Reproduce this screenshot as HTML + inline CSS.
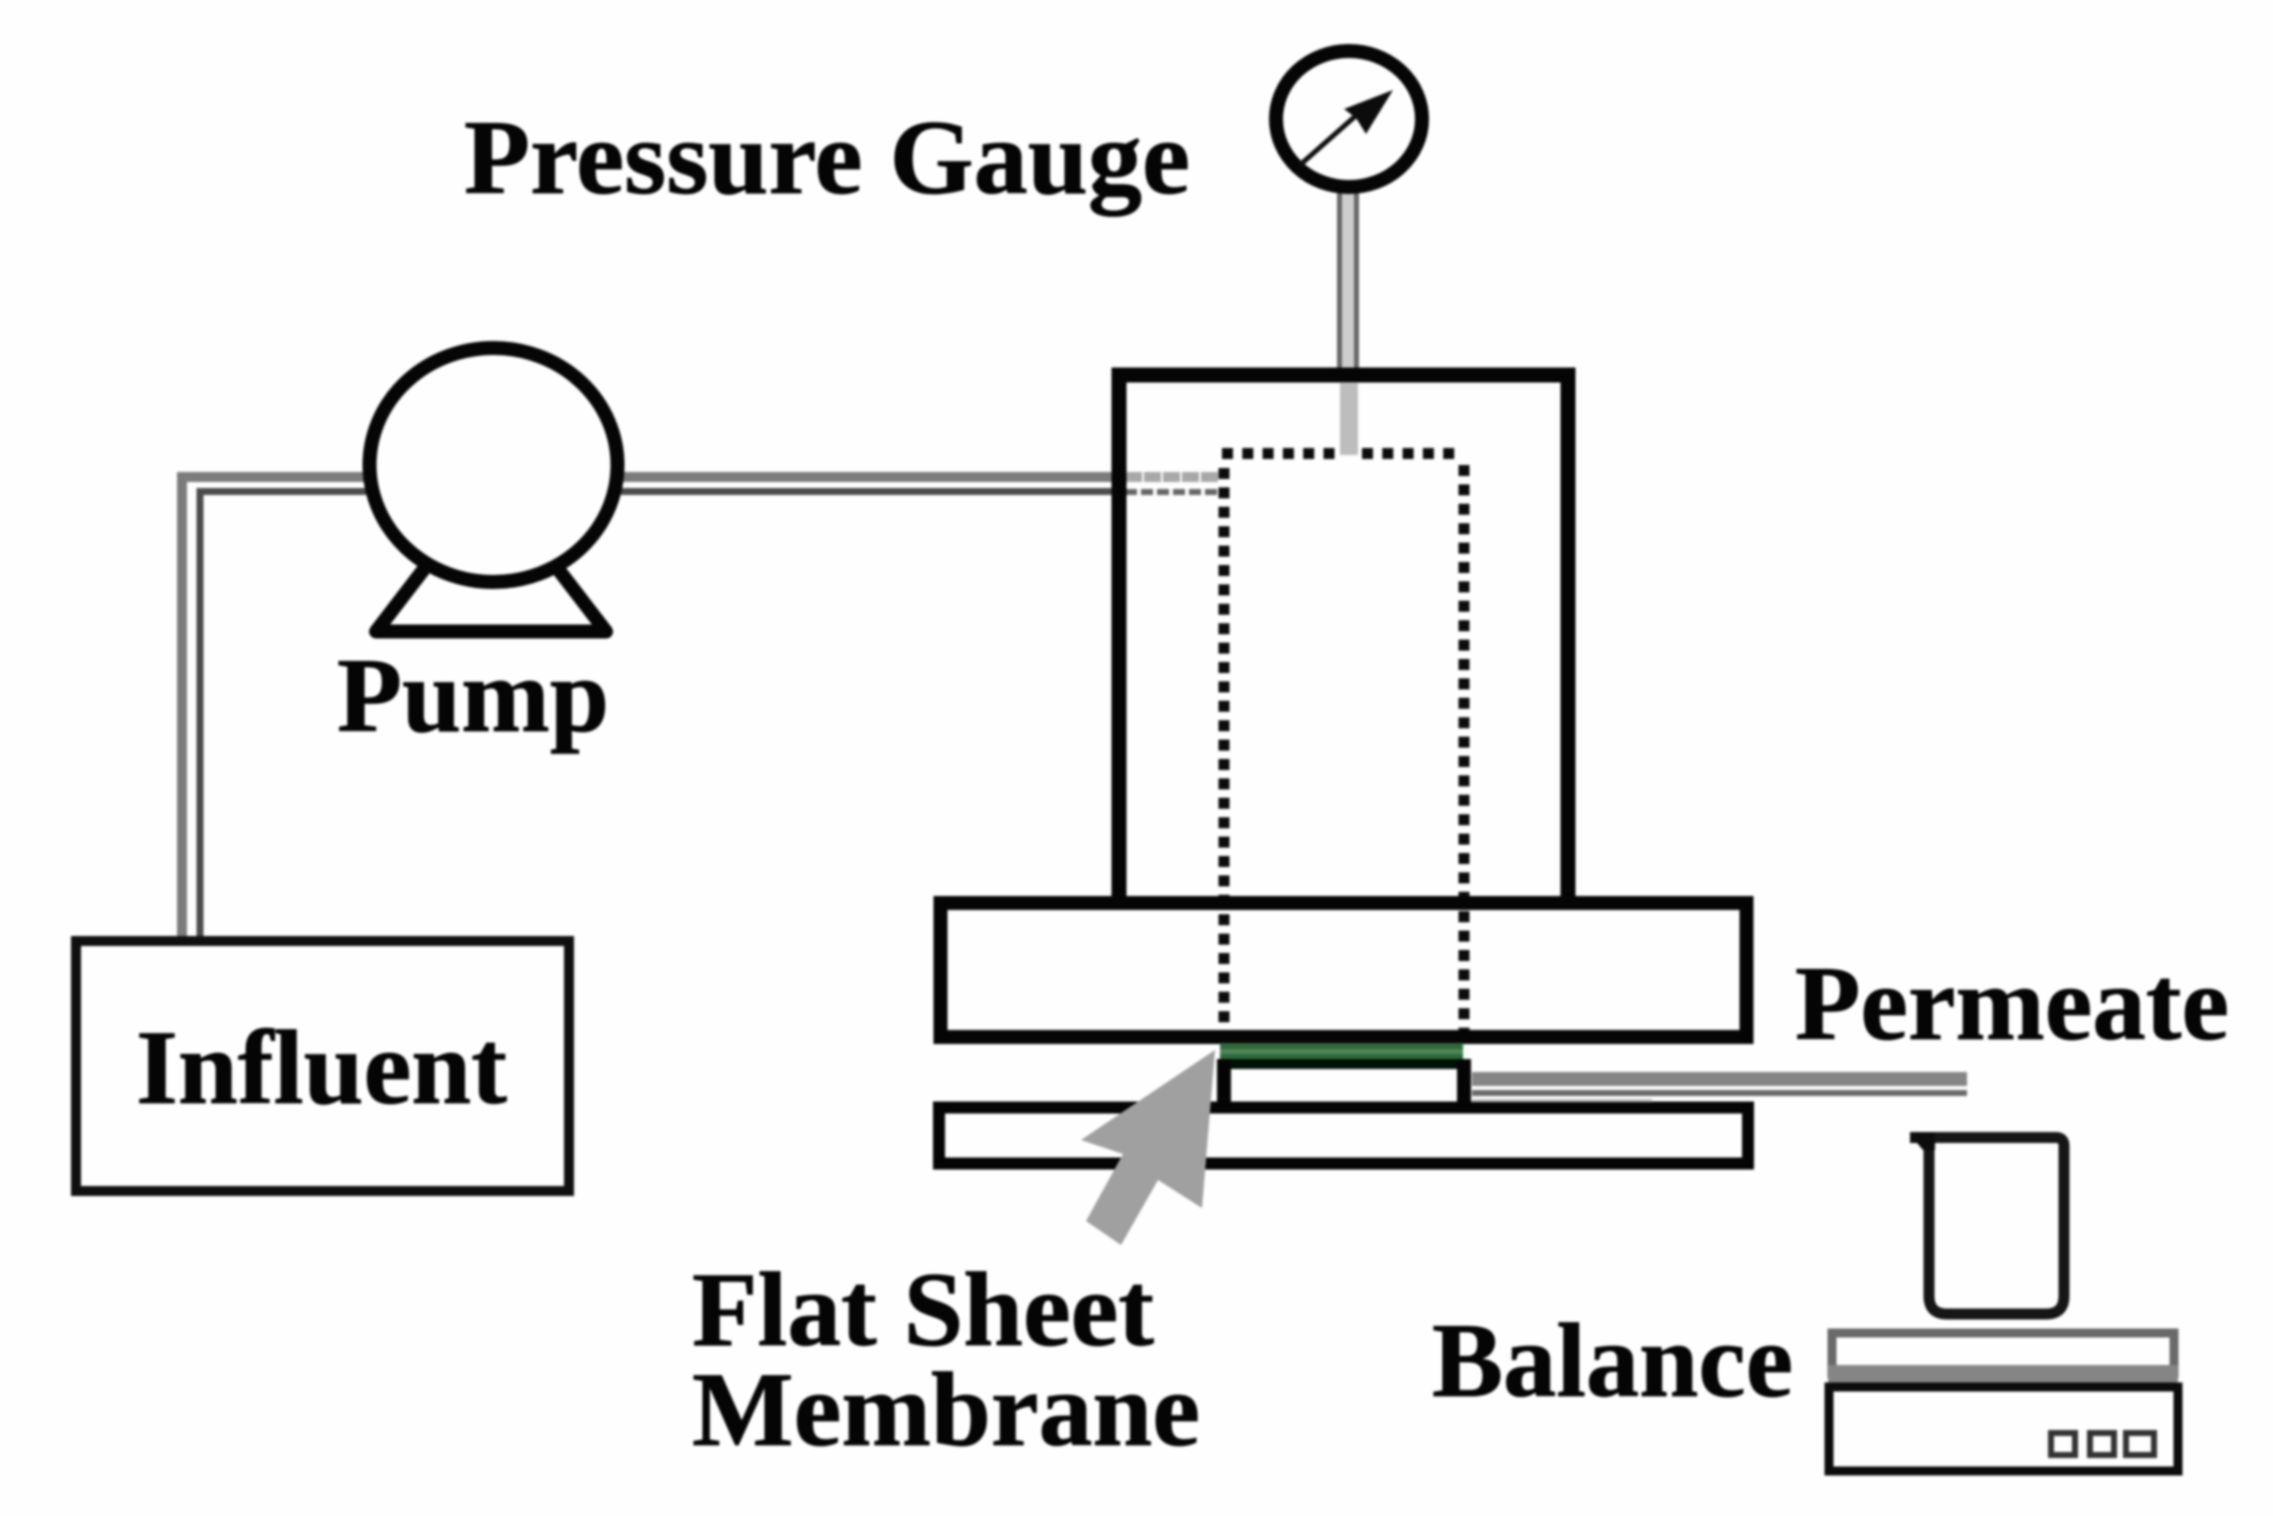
<!DOCTYPE html>
<html><head><meta charset="utf-8">
<style>
html,body{margin:0;padding:0;background:#fefefe;width:2273px;height:1516px;overflow:hidden}
svg{display:block;filter:blur(1.4px)}
text{font-family:"Liberation Serif",serif;font-weight:bold;fill:#050505;stroke:#050505;stroke-width:0.8px;font-size:106px}
</style></head><body>
<svg width="2273" height="1516" viewBox="0 0 2273 1516" xmlns="http://www.w3.org/2000/svg">
<rect width="2273" height="1516" fill="#fefefe"/>

<!-- influent pipes -->
<g fill="none" stroke-linejoin="miter">
<path d="M366,477H182V938" stroke="#7c7c7c" stroke-width="10"/>
<path d="M366,491.5H200V938" stroke="#4c4c4c" stroke-width="7"/>
<path d="M621,477H1114" stroke="#7c7c7c" stroke-width="10"/>
<path d="M621,491.5H1114" stroke="#4c4c4c" stroke-width="7"/>
<path d="M1125,477H1218" stroke="#a8a8a8" stroke-width="10" stroke-dasharray="17 2"/>
<path d="M1125,492H1218" stroke="#666" stroke-width="6" stroke-dasharray="12 4"/>
</g>

<!-- gauge tube -->
<rect x="1339" y="192" width="18" height="178" fill="#cdcdcd"/>
<rect x="1337" y="192" width="5" height="178" fill="#666"/>
<rect x="1354" y="192" width="5" height="178" fill="#666"/>
<rect x="1340" y="383" width="18" height="72" fill="#bdbdbd"/>

<!-- pressure gauge -->
<ellipse cx="1349" cy="119" rx="73" ry="68" fill="#fefefe" stroke="#060606" stroke-width="14"/>
<line x1="1300" y1="165" x2="1360" y2="112" stroke="#111" stroke-width="5"/>
<polygon points="1393,90 1366,134 1356,118 1344,109" fill="#0c0c0c"/>

<!-- main cylinder -->
<path d="M1119,898V375H1568V898" fill="none" stroke="#050505" stroke-width="15"/>

<!-- dotted inner chamber -->
<g fill="none" stroke="#0c0c0c" stroke-width="11">
<path d="M1222,453.5H1336" stroke-dasharray="11 9.3"/>
<path d="M1362,453.5H1456" stroke-dasharray="11 9.3"/>
<path d="M1224,468V1036" stroke-dasharray="11 8.4"/>
<path d="M1464,465V1036" stroke-dasharray="11 8.4"/>
</g>

<!-- upper plate -->
<rect x="940.5" y="903" width="806" height="134" fill="none" stroke="#050505" stroke-width="14"/>

<!-- membrane -->
<rect x="1220" y="1043" width="243" height="17" fill="#2f6a3a"/>
<rect x="1220" y="1049" width="243" height="5" fill="#4f8558"/>
<rect x="1218" y="1059" width="252" height="10" fill="#021005"/>
<rect x="1217" y="1059" width="14" height="48" fill="#050505"/>
<rect x="1457" y="1059" width="14" height="48" fill="#050505"/>

<!-- lower plate -->
<rect x="939" y="1107.5" width="809" height="56" fill="none" stroke="#050505" stroke-width="12"/>

<!-- permeate pipe -->
<rect x="1472" y="1072" width="495" height="14" fill="#858585"/>
<rect x="1472" y="1090" width="495" height="6" fill="#6a6a6a"/>
<rect x="1472" y="1099" width="180" height="3" fill="#bbb"/>

<!-- grey arrow -->
<polygon points="1215,1050 1202,1208 1158,1180 1121,1245 1086,1221 1123,1154 1081,1140" fill="#a0a0a0"/>

<!-- influent box -->
<rect x="76" y="941" width="493" height="250" fill="none" stroke="#101010" stroke-width="10"/>

<!-- pump -->
<path d="M424,569L376,631.5H606L558,569" fill="#fefefe" stroke="#060606" stroke-width="14" stroke-linejoin="round"/>
<ellipse cx="493.5" cy="465" rx="124" ry="117" fill="#fefefe" stroke="#060606" stroke-width="14"/>

<!-- beaker -->
<path d="M1925,1137.5H2056Q2064,1137.5 2064,1146V1296Q2064,1314 2046,1314H1947Q1929,1314 1929,1296V1146" fill="none" stroke="#161616" stroke-width="11"/>
<polygon points="1910,1132 1935,1132 1935,1150 1923,1150 1917,1143 1910,1143" fill="#0c0c0c"/>

<!-- balance -->
<rect x="1832" y="1333" width="342" height="40" fill="none" stroke="#6a6a6a" stroke-width="9"/>
<rect x="1828" y="1365" width="350" height="19" fill="#858585"/>
<rect x="1829" y="1387" width="349" height="84" fill="none" stroke="#0c0c0c" stroke-width="9"/>
<g fill="none" stroke="#333" stroke-width="6">
<rect x="2051" y="1433" width="24" height="22"/>
<rect x="2090" y="1433" width="24" height="22"/>
<rect x="2126" y="1433" width="28" height="22"/>
</g>

<!-- labels -->
<text x="464" y="193" textLength="726" lengthAdjust="spacingAndGlyphs">Pressure Gauge</text>
<text x="337" y="731" textLength="272" lengthAdjust="spacingAndGlyphs">Pump</text>
<text x="136" y="1103" textLength="371" lengthAdjust="spacingAndGlyphs">Influent</text>
<text x="1795" y="1039" textLength="434" lengthAdjust="spacingAndGlyphs">Permeate</text>
<text x="1432" y="1396" textLength="361" lengthAdjust="spacingAndGlyphs">Balance</text>
<text x="692" y="1345" textLength="462" lengthAdjust="spacingAndGlyphs">Flat Sheet</text>
<text x="692" y="1445" textLength="508" lengthAdjust="spacingAndGlyphs">Membrane</text>
</svg>
</body></html>
